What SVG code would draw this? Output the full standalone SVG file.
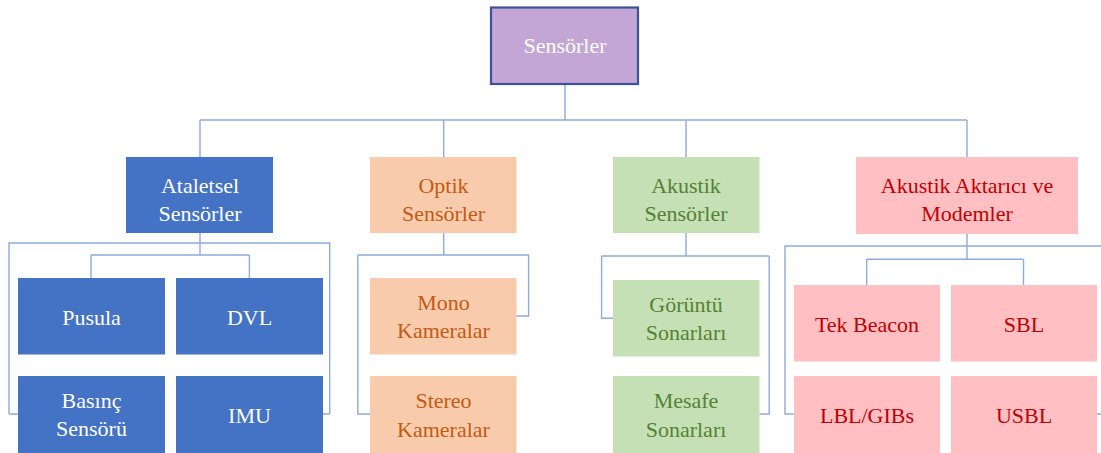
<svg xmlns="http://www.w3.org/2000/svg" width="1101" height="453" viewBox="0 0 1101 453">
<style>
text{font-family:'Liberation Serif','Tinos','DejaVu Serif',serif;font-size:22px;text-anchor:middle}
.c{fill:none;stroke:#8FAADC;stroke-width:1.4}
.blue rect{fill:#4472C4}.blue text{fill:#FFFFFF}
.org rect{fill:#F8CBAD}.org text{fill:#C55A11}
.grn rect{fill:#C5E0B4}.grn text{fill:#548235}
.red rect{fill:#FFBFC3}.red text{fill:#C00000}
</style>
<rect width="1101" height="453" fill="#FFFFFF"/>
<g id="connectors" class="c">
<path d="M565,85V120M200,120H967M200,120V157M443.7,120V157M686,120V157M967,120V157"/>
<path d="M200,233V255M91,255H249.4M91,255V278M249.4,255V278"/>
<path d="M9,414V243H329.7V414M9,414H18M329.7,414H322.7"/>
<path d="M443.7,233V255M357.8,255H528.6V316H516.3M357.8,255V414H370"/>
<path d="M686,233V256M601.6,256H769.2M601.6,256V318.3H613M769.2,256V414H759.4"/>
<path d="M967,234V259.3M866.7,259.3H1023.5M866.7,259.3V285M1023.5,259.3V285"/>
<path d="M793.8,414H785V246H1110M1097,414H1110"/>
</g>
<g id="root"><rect x="491" y="7.5" width="147" height="76.5" fill="#C3A5D6" stroke="#3B5394" stroke-width="2.2"/><text x="565" y="53" fill="#FFFFFF" font-family="Liberation Serif, serif">Sensörler</text></g>
<g id="ataletsel" class="blue"><rect x="126" y="157" width="147" height="76"/><text x="200" y="192.5">Ataletsel</text><text x="200" y="221">Sensörler</text></g>
<g id="optik" class="org"><rect x="370" y="157" width="146.5" height="76"/><text x="443.5" y="192.5">Optik</text><text x="443.5" y="221">Sensörler</text></g>
<g id="akustik" class="grn"><rect x="613" y="157" width="146.5" height="76"/><text x="686" y="192.5">Akustik</text><text x="686" y="221">Sensörler</text></g>
<g id="aktarici" class="red"><rect x="856" y="157" width="222" height="77"/><text x="967" y="192.5">Akustik Aktarıcı ve</text><text x="967" y="221">Modemler</text></g>
<g id="pusula" class="blue"><rect x="18" y="278" width="147" height="76.5"/><text x="91.5" y="325">Pusula</text></g>
<g id="dvl" class="blue"><rect x="176" y="278" width="147" height="76.5"/><text x="249.5" y="325">DVL</text></g>
<g id="basinc" class="blue"><rect x="18" y="376" width="147" height="77"/><text x="91.5" y="408">Basınç</text><text x="91.5" y="436">Sensörü</text></g>
<g id="imu" class="blue"><rect x="176" y="376" width="147" height="77"/><text x="249.5" y="423">IMU</text></g>
<g id="mono" class="org"><rect x="370" y="278" width="146.5" height="76.5"/><text x="443.5" y="310">Mono</text><text x="443.5" y="338">Kameralar</text></g>
<g id="stereo" class="org"><rect x="370" y="376" width="146.5" height="77"/><text x="443.5" y="408">Stereo</text><text x="443.5" y="436.5">Kameralar</text></g>
<g id="goruntu" class="grn"><rect x="613" y="280" width="146.5" height="76.5"/><text x="686" y="312">Görüntü</text><text x="686" y="340">Sonarları</text></g>
<g id="mesafe" class="grn"><rect x="613" y="376" width="146.5" height="77"/><text x="686" y="408">Mesafe</text><text x="686" y="436.5">Sonarları</text></g>
<g id="tekbeacon" class="red"><rect x="794" y="285" width="146" height="76.5"/><text x="867" y="332">Tek Beacon</text></g>
<g id="sbl" class="red"><rect x="951" y="285" width="146" height="76.5"/><text x="1024" y="332">SBL</text></g>
<g id="lbl" class="red"><rect x="794" y="376" width="146" height="77"/><text x="867" y="423">LBL/GIBs</text></g>
<g id="usbl" class="red"><rect x="951" y="376" width="146" height="77"/><text x="1024" y="423">USBL</text></g>
</svg>
